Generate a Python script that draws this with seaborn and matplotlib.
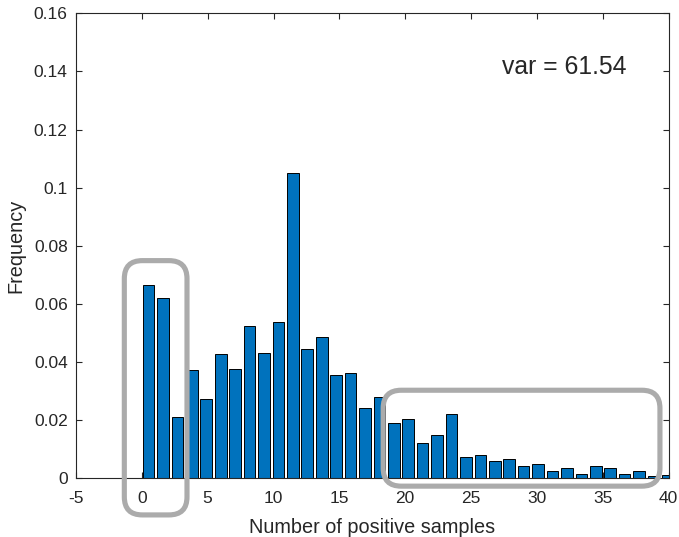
import matplotlib
matplotlib.use("Agg")
import matplotlib.pyplot as plt
from matplotlib.patches import FancyBboxPatch
import seaborn as sns
import pandas as pd

# ---- data ----
bin_centers = [0.51, 1.61, 2.70, 3.80, 4.89, 5.99, 7.08, 8.18, 9.28, 10.37,
               11.47, 12.56, 13.66, 14.76, 15.85, 16.95, 18.04, 19.14, 20.23, 21.33,
               22.43, 23.52, 24.62, 25.71, 26.81, 27.90, 29.00, 30.10, 31.19, 32.29,
               33.38, 34.48, 35.58, 36.67, 37.77, 38.86, 39.96]
frequency = [0.0665, 0.0620, 0.0210, 0.0372, 0.0274, 0.0429, 0.0375, 0.0525, 0.0432, 0.0537,
             0.1050, 0.0445, 0.0486, 0.0356, 0.0361, 0.0241, 0.0281, 0.0191, 0.0205, 0.0123,
             0.0148, 0.0220, 0.0074, 0.0081, 0.0060, 0.0066, 0.0041, 0.0048, 0.0025, 0.0035,
             0.0016, 0.0043, 0.0034, 0.0014, 0.0024, 0.0007, 0.0011]
x_ticks = [-5, 0, 5, 10, 15, 20, 25, 30, 35, 40]
y_ticks = [0, 0.02, 0.04, 0.06, 0.08, 0.1, 0.12, 0.14, 0.16]
y_tick_labels = ["0", "0.02", "0.04", "0.06", "0.08", "0.1", "0.12", "0.14", "0.16"]
annotation = "var = 61.54"

df = pd.DataFrame({"x": bin_centers, "freq": frequency})

sns.set_theme(style="white")
plt.rcParams["font.family"] = ["Liberation Sans", "DejaVu Sans"]

W, H = 679, 537
fig = plt.figure(figsize=(W / 100, H / 100), dpi=100)
ax_l, ax_r, ax_t, ax_b = 76, 668.5, 13.3, 478.3
ax = fig.add_axes([ax_l / W, 1 - ax_b / H, (ax_r - ax_l) / W, (ax_b - ax_t) / H])

sns.barplot(data=df, x="x", y="freq", native_scale=True, color="#0072BD",
            saturation=1, edgecolor="black", linewidth=0.7, width=0.81,
            errorbar=None, ax=ax)

ax.set_xlim(-5, 40)
ax.set_ylim(0, 0.16)
ax.set_xticks(x_ticks)
ax.set_xticklabels([str(t) for t in x_ticks])
ax.set_yticks(y_ticks)
ax.set_yticklabels(y_tick_labels)

dark = "#262626"
for s in ax.spines.values():
    s.set_visible(True)
    s.set_color(dark)
    s.set_linewidth(0.8)
ax.tick_params(axis="both", which="both", direction="in", length=4.3, width=0.8,
               colors=dark, labelsize=12.5, top=True, right=True,
               labeltop=False, labelright=False, bottom=True, left=True)
ax.tick_params(axis="x", pad=9.5)
ax.tick_params(axis="y", pad=6)
ax.grid(False)

ax.set_xlabel("Number of positive samples", fontsize=14.3, color=dark, labelpad=8)
ax.set_ylabel("Frequency", fontsize=14.3, color=dark, labelpad=6)

ax.text(0.7185, 0.8845, annotation, transform=ax.transAxes, ha="left", va="center",
        fontsize=17.8, color=dark)

# gray rounded highlight boxes (in data coordinates, corrected for aspect)
x_per_px = 45 / (ax_r - ax_l)
y_per_px = 0.16 / (ax_b - ax_t)
aspect = y_per_px / x_per_px
rad = 18 * x_per_px
for (x0, x1, y0, y1) in [(-1.33, 3.43, -0.0126, 0.0749), (18.33, 39.35, -0.0027, 0.0303)]:
    box = FancyBboxPatch((x0, y0), x1 - x0, y1 - y0,
                         boxstyle=f"round,pad=0,rounding_size={rad}",
                         mutation_aspect=aspect, transform=ax.transData,
                         facecolor="none", edgecolor="#ABABAB", linewidth=3.7,
                         clip_on=False, zorder=10)
    ax.add_patch(box)

fig.savefig("out.png", dpi=100)
